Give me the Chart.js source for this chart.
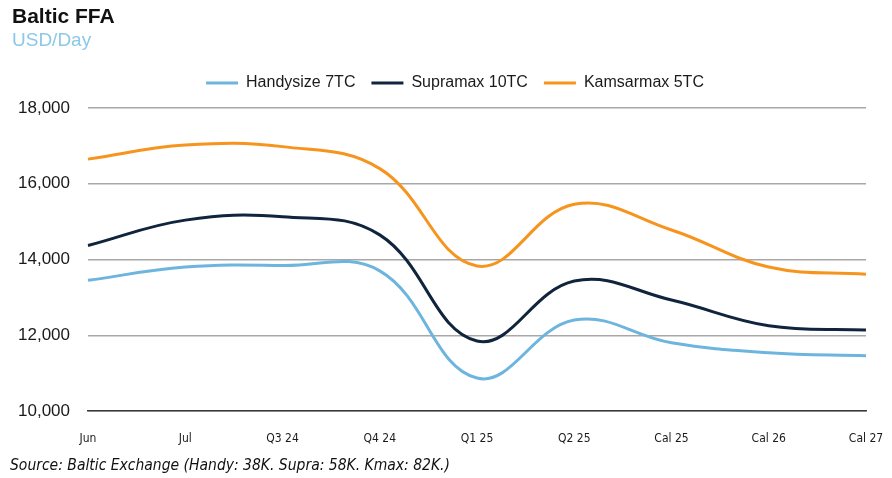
<!DOCTYPE html>
<html>
<head>
<meta charset="utf-8">
<script src="https://cdn.jsdelivr.net/npm/chart.js@4/dist/chart.umd.min.js"></script>
<style>
  html, body { margin: 0; padding: 0; background: #ffffff; }
  #wrap { position: relative; width: 892px; height: 478px; overflow: hidden; }
  #c { position: absolute; left: 0; top: 0; }
  .title { position: absolute; left: 12px; top: 4px; font-family: "Liberation Sans", Arial, sans-serif; font-weight: bold; font-size: 21px; color: #111111; }
  .sub { position: absolute; left: 12px; top: 29px; font-family: "Liberation Sans", Arial, sans-serif; font-size: 19px; color: #8cc8e8; }
  .src { position: absolute; left: 10px; top: 456px; font-family: "DejaVu Sans Condensed", "Liberation Sans", Arial, sans-serif; font-stretch: condensed; font-style: italic; font-size: 15.5px; color: #111111; white-space: nowrap; }
</style>
</head>
<body>
<div id="wrap">
  <canvas id="c" width="892" height="478"></canvas>
  <div class="title">Baltic FFA</div>
  <div class="sub">USD/Day</div>
  <div class="src">Source: Baltic Exchange (Handy: 38K. Supra: 58K. Kmax: 82K.)</div>
</div>
<script>
const categories = ["Jun", "Jul", "Q3 24", "Q4 24", "Q1 25", "Q2 25", "Cal 25", "Cal 26", "Cal 27"];
const handysize = [13450, 13800, 13840, 13700, 10870, 12400, 11800, 11540, 11460];
const supramax  = [14370, 15040, 15130, 14650, 11850, 13430, 12930, 12250, 12140];
const kamsarmax = [16650, 17020, 16980, 16400, 13830, 15460, 14780, 13800, 13610];
const yTicks = [10000, 12000, 14000, 16000, 18000];

const legendTweakPlugin = {
  id: 'legendTweak',
  beforeInit(chart) {
    const origFit = chart.legend.fit;
    chart.legend.fit = function () {
      origFit.call(this);
      this.height = 49;
    };
  },
  afterLayout(chart) {
    const lg = chart.legend;
    if (lg) { lg.left += 22; lg.right += 22; }
  }
};

new Chart(document.getElementById('c'), {
  type: 'line',
  data: {
    labels: categories,
    datasets: [
      { label: 'Handysize 7TC', data: handysize, borderColor: '#6db5de', backgroundColor: '#6db5de', borderWidth: 3, pointRadius: 0, tension: 0.4, fill: false },
      { label: 'Supramax 10TC', data: supramax, borderColor: '#10243d', backgroundColor: '#10243d', borderWidth: 3, pointRadius: 0, tension: 0.4, fill: false },
      { label: 'Kamsarmax 5TC', data: kamsarmax, borderColor: '#f7941d', backgroundColor: '#f7941d', borderWidth: 3, pointRadius: 0, tension: 0.4, fill: false }
    ]
  },
  options: {
    responsive: false,
    animation: false,
    devicePixelRatio: 1,
    layout: { padding: { left: 0, right: 26, top: 59, bottom: 0 } },
    plugins: {
      legend: {
        position: 'top',
        align: 'center',
        labels: {
          usePointStyle: true,
          pointStyle: 'line',
          pointStyleWidth: 32,
          padding: 16,
          color: '#1a1a1a',
          font: { family: '"Liberation Sans", Arial, sans-serif', size: 16 }
        }
      },
      tooltip: { enabled: false }
    },
    scales: {
      x: {
        offset: false,
        grid: { display: true, color: 'rgba(0,0,0,0)', drawOnChartArea: false, drawTicks: true, tickLength: 19 },
        border: { display: true, color: '#3a3a3a', width: 1.5 },
        ticks: {
          padding: 2,
          color: '#1a1a1a',
          maxRotation: 0,
          autoSkip: false,
          font: { family: '"DejaVu Sans Condensed", "Liberation Sans", Arial, sans-serif', size: 12 }
        },
        afterFit(scale) { scale.height = 67; }
      },
      y: {
        min: 10000,
        max: 18000,
        afterBuildTicks(scale) { scale.ticks = yTicks.map(v => ({ value: v })); },
        grid: { color: '#a8a8a8', lineWidth: 1.5, drawTicks: false },
        border: { display: false },
        ticks: {
          padding: 18,
          color: '#1a1a1a',
          font: { family: '"Liberation Sans", Arial, sans-serif', size: 17 },
          callback: (v) => v.toLocaleString('en-US')
        },
        afterFit(scale) { scale.width = 88; }
      }
    }
  },
  plugins: [legendTweakPlugin]
});
</script>
</body>
</html>
